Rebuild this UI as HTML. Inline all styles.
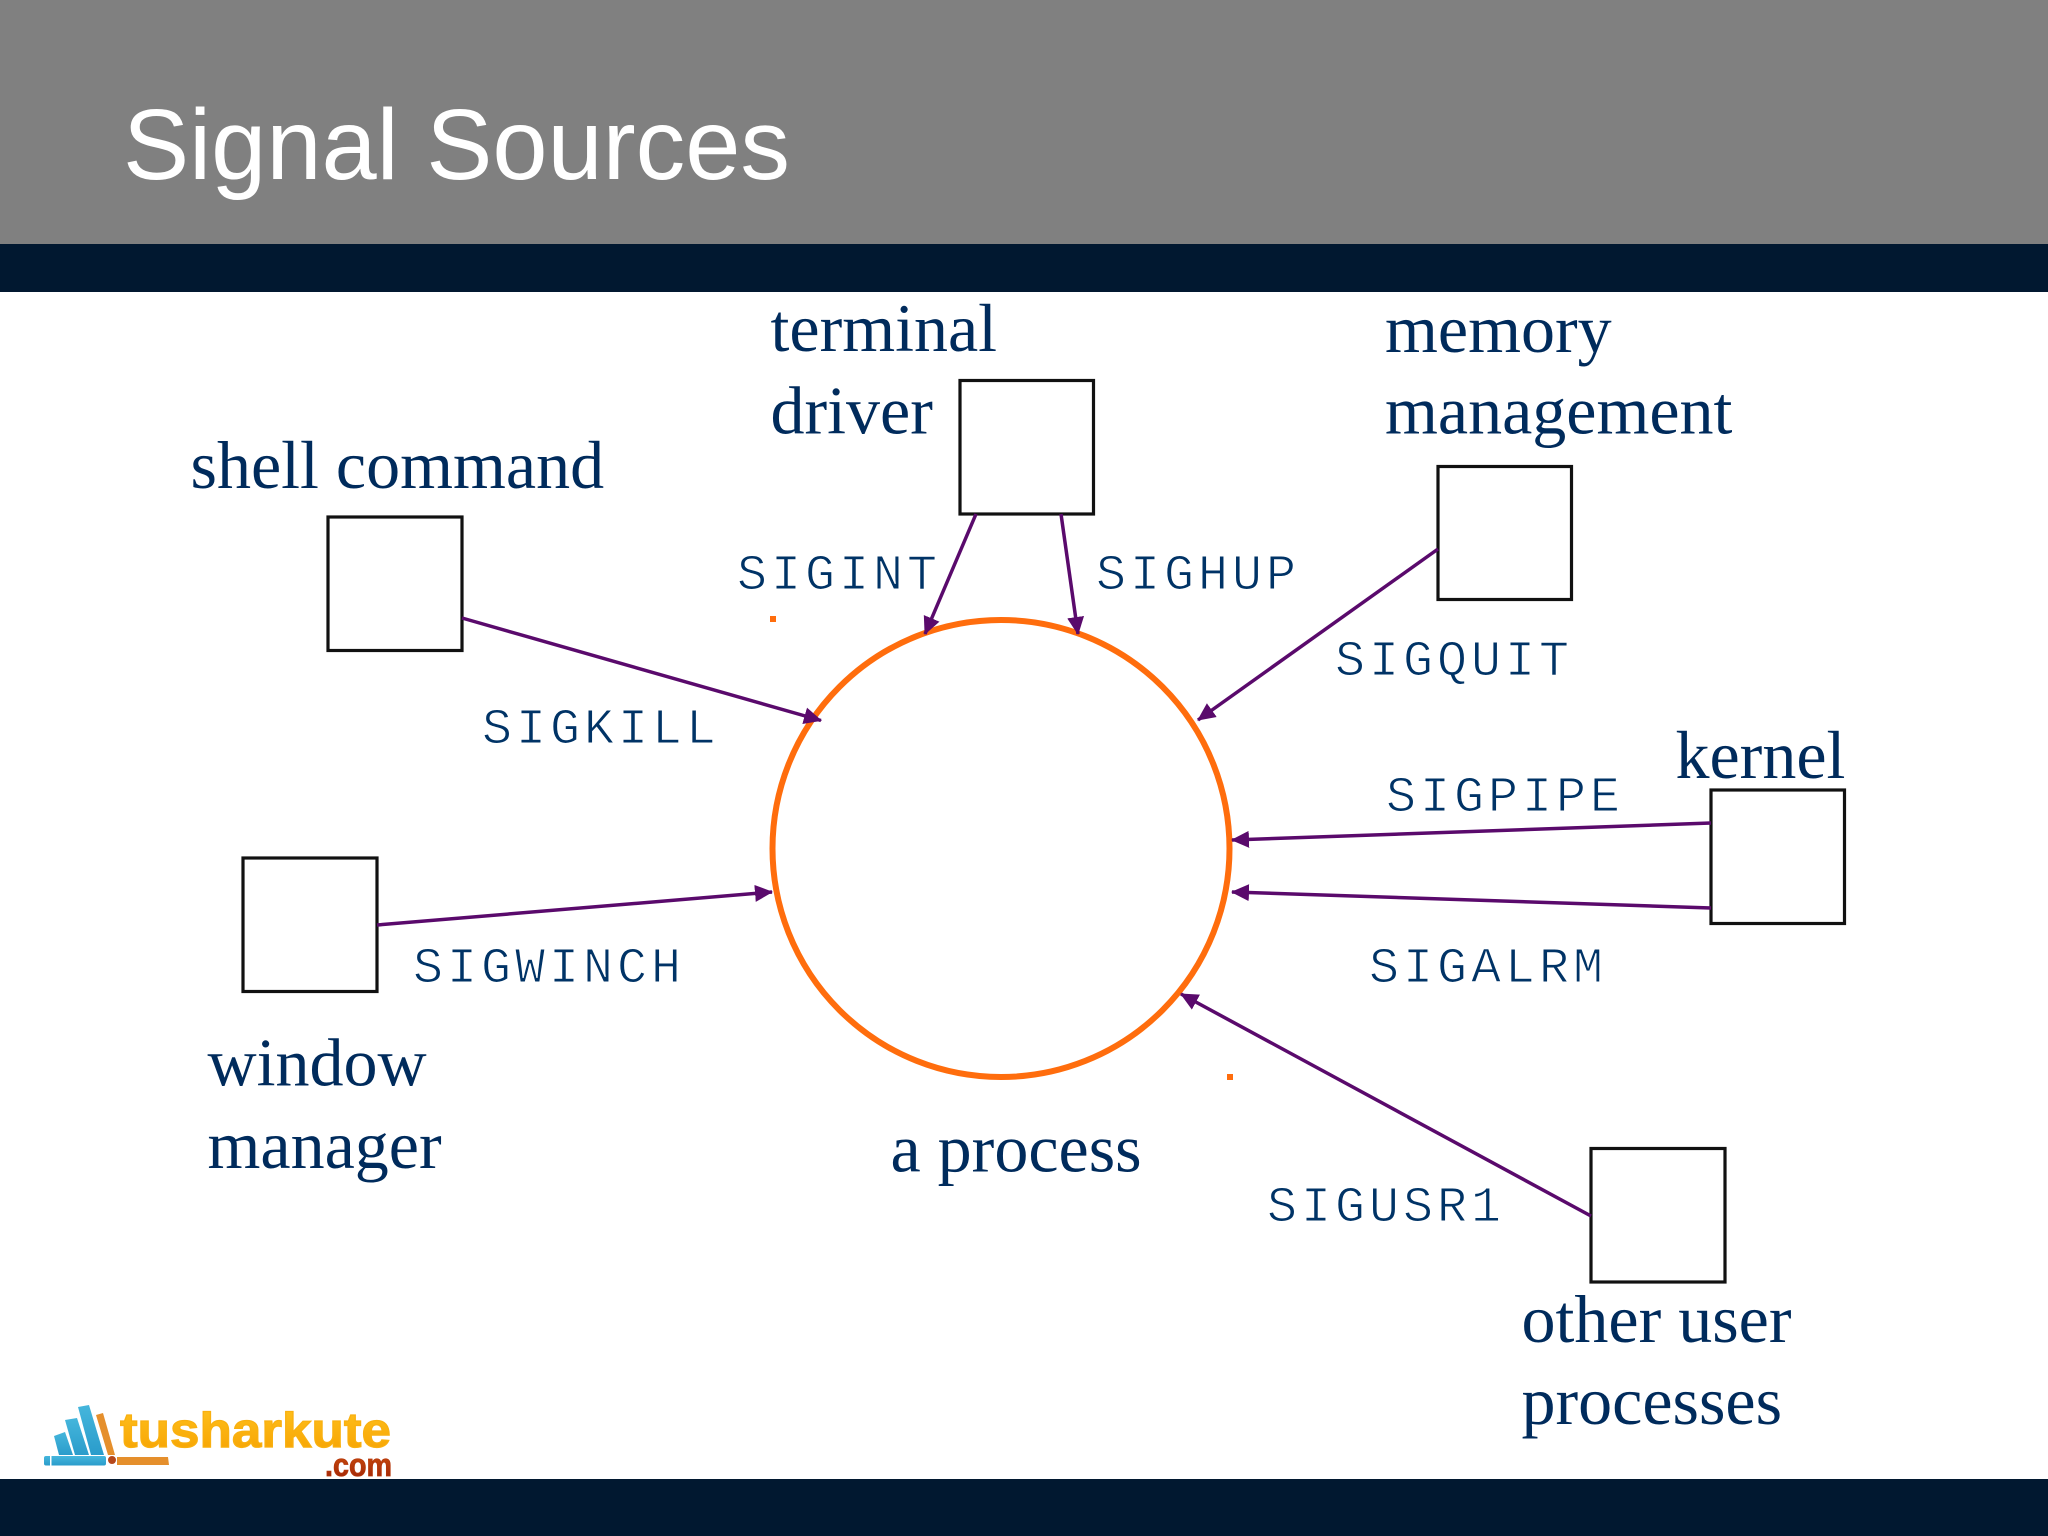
<!DOCTYPE html>
<html lang="en">
<head>
<meta charset="utf-8">
<title>Signal Sources</title>
<style>
html,body{margin:0;padding:0;background:#fff;width:2048px;height:1536px;overflow:hidden}
svg{display:block}
.l{font-family:"Liberation Serif",serif;font-size:68px;fill:#002b5c}
.m{font-family:"Liberation Mono",monospace;font-size:50px;letter-spacing:4px;fill:#003366;stroke:#fff;stroke-width:1.1px}
.a{stroke:#5a0a6c;stroke-width:3.5;fill:none}
.h{fill:#5a0a6c}
.b{fill:#fff;stroke:#111;stroke-width:3.2}
</style>
</head>
<body>
<svg width="2048" height="1536" viewBox="0 0 2048 1536" xmlns="http://www.w3.org/2000/svg">
<defs>
<linearGradient id="og" x1="0" y1="0" x2="0" y2="1"><stop offset="0" stop-color="#ffc21e"/><stop offset="1" stop-color="#f6a100"/></linearGradient>
<linearGradient id="rg" x1="0" y1="0" x2="0" y2="1"><stop offset="0" stop-color="#d4560c"/><stop offset="1" stop-color="#9a1f08"/></linearGradient>
<linearGradient id="bg" x1="0" y1="0" x2="0" y2="1"><stop offset="0" stop-color="#45b6dc"/><stop offset="1" stop-color="#2a9ccb"/></linearGradient>
<marker id="ah" markerUnits="userSpaceOnUse" markerWidth="18" markerHeight="18" refX="17" refY="9" orient="auto"><path class="h" d="M0 0.5L18 9L0 17.5Z"/></marker>
</defs>

<rect x="0" y="0" width="2048" height="244" fill="#808080"/>
<rect x="0" y="244" width="2048" height="48" fill="#011830"/>
<rect x="0" y="1479" width="2048" height="57" fill="#011830"/>

<text x="123" y="179" font-family="'Liberation Sans',sans-serif" font-size="100" fill="#fff" textLength="667" lengthAdjust="spacingAndGlyphs">Signal Sources</text>

<circle cx="1001" cy="848.5" r="228.5" fill="#fff" stroke="#ff6d0d" stroke-width="6"/>
<rect x="770" y="616" width="6" height="6" fill="#ff6d0d"/>
<rect x="1227" y="1074" width="6" height="6" fill="#ff6d0d"/>

<rect class="b" x="328" y="517" width="134" height="133.5"/>
<rect class="b" x="960" y="380.5" width="133.5" height="133.5"/>
<rect class="b" x="1438" y="466.5" width="133.5" height="133"/>
<rect class="b" x="1711" y="790" width="133.5" height="133.5"/>
<rect class="b" x="243" y="858" width="134" height="133.5"/>
<rect class="b" x="1591" y="1148.5" width="134" height="133.5"/>

<line class="a" x1="462" y1="618" x2="821" y2="720.5" marker-end="url(#ah)"/>
<line class="a" x1="976" y1="514" x2="925" y2="634" marker-end="url(#ah)"/>
<line class="a" x1="1061" y1="514" x2="1078" y2="634" marker-end="url(#ah)"/>
<line class="a" x1="1438" y1="549" x2="1198" y2="720" marker-end="url(#ah)"/>
<line class="a" x1="1711" y1="823" x2="1232" y2="840" marker-end="url(#ah)"/>
<line class="a" x1="1711" y1="908" x2="1232" y2="892" marker-end="url(#ah)"/>
<line class="a" x1="377" y1="925" x2="772" y2="892" marker-end="url(#ah)"/>
<line class="a" x1="1591" y1="1216" x2="1181" y2="994" marker-end="url(#ah)"/>

<text class="l" x="770.5" y="351">terminal</text>
<text class="l" x="770.5" y="433.5">driver</text>
<text class="l" x="1385" y="352">memory</text>
<text class="l" x="1385" y="433.5">management</text>
<text class="l" x="190.5" y="488">shell command</text>
<text class="l" x="1675.5" y="778">kernel</text>
<text class="l" x="207.5" y="1085.5">window</text>
<text class="l" x="207.5" y="1168">manager</text>
<text class="l" x="890.5" y="1171.5">a process</text>
<text class="l" x="1521.5" y="1342">other user</text>
<text class="l" x="1521.5" y="1424">processes</text>

<text class="m" x="737" y="589">SIGINT</text>
<text class="m" x="1096" y="589">SIGHUP</text>
<text class="m" x="1335" y="675">SIGQUIT</text>
<text class="m" x="482" y="743">SIGKILL</text>
<text class="m" x="1386" y="811">SIGPIPE</text>
<text class="m" x="413" y="982">SIGWINCH</text>
<text class="m" x="1369" y="982">SIGALRM</text>
<text class="m" x="1267" y="1221">SIGUSR1</text>

<!-- logo -->
<g>
<rect x="44" y="1456" width="62" height="9.5" rx="2" fill="url(#bg)"/>
<rect x="50" y="1456" width="1.5" height="9.5" fill="#fff"/>
<polygon points="117,1457 168,1457 169,1465 117,1465" fill="#e58f2c"/>
<polygon points="54,1436 65,1432 73,1455 59,1455" fill="url(#bg)"/>
<polygon points="65,1420 77,1418 89,1455 75,1455" fill="url(#bg)"/>
<polygon points="78,1407 89,1405 104,1455 91,1455" fill="url(#bg)"/>
<polygon points="96,1415 103,1413 115,1455 108,1455" fill="#e58f2c"/>
<circle cx="112" cy="1460" r="4.5" fill="#b5471c" stroke="#fff" stroke-width="1"/>
<text x="120" y="1447" font-family="'Liberation Sans',sans-serif" font-weight="700" font-size="49" fill="url(#og)" stroke="#f9b010" stroke-width="1.2" textLength="271" lengthAdjust="spacingAndGlyphs">tusharkute</text>
<text x="325" y="1476" font-family="'Liberation Sans',sans-serif" font-weight="700" font-size="32" fill="url(#rg)" stroke="#b5360a" stroke-width="0.8" textLength="67" lengthAdjust="spacingAndGlyphs">.com</text>
</g>
</svg>
</body>
</html>
